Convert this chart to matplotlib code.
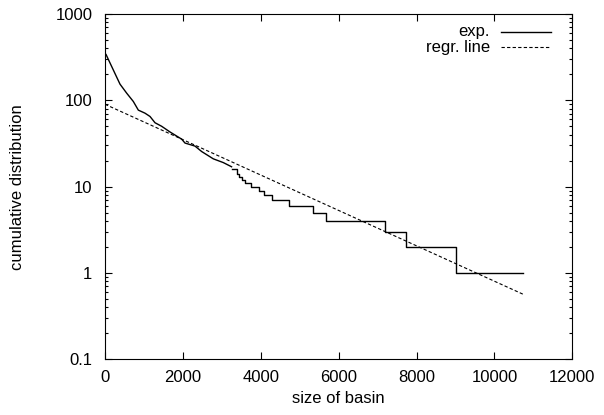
import matplotlib
matplotlib.use("Agg")
from matplotlib import pyplot as plt
from matplotlib.ticker import LogLocator, NullFormatter, FixedLocator
import numpy as np

plt.rcParams['font.family'] = ['Liberation Sans', 'DejaVu Sans']
plt.rcParams['font.size'] = 12

# smooth upper part of the cumulative distribution (many small basins)
curve_x = [0, 26, 213, 385, 557, 727, 856, 1027, 1156, 1284, 1456, 1669,
           1969, 2054, 2311, 2483, 2781, 3038, 3250]
curve_y = [350, 340, 225, 154, 121, 97, 77, 71, 65, 55, 50, 43,
           35.5, 32, 29.5, 25.5, 21, 19, 17]

# step part: level starts at step_x[i] and holds until step_x[i+1]
step_x = [3250, 3380, 3450, 3520, 3600, 3750, 3960, 4080, 4300, 4730,
          5350, 5680, 7200, 7730, 9010, 10740]
step_y = [16, 14, 13, 12, 11, 10, 9, 8, 7, 6, 5, 4, 3, 2, 1, 1]

# regression line end points
regr_x = [0, 10740]
regr_y = [90, 0.566]

legend_labels = ['exp.', 'regr. line']

fig = plt.figure(figsize=(6.04, 4.15), dpi=100)
ax = fig.add_axes([105/604, (415-359.3)/415, 467.3/604, 345.3/415])

solid = dict(color='black', lw=1.0)
dashed = dict(color='black', lw=0.8, linestyle=(0, (3, 2)))

ax.plot(curve_x, curve_y, **solid)
ax.step(step_x, step_y, where='post', **solid)
ax.plot(regr_x, regr_y, **dashed)

# gnuplot style key: right aligned text, sample line on the right
for lab, sty, yk in zip(legend_labels, [solid, dashed], [0.9487, 0.9044]):
    ax.text(0.824, yk, lab, transform=ax.transAxes, ha='right', va='center')
    ax.plot([0.847, 0.954], [yk, yk], transform=ax.transAxes, **sty)

ax.set_yscale('log')
ax.set_xlim(0, 12000)
ax.set_ylim(0.1, 1000)
ax.xaxis.set_major_locator(FixedLocator(np.arange(0, 12001, 2000)))
ax.yaxis.set_major_locator(FixedLocator([0.1, 1, 10, 100, 1000]))
ax.set_yticklabels(['0.1', '1', '10', '100', '1000'])
ax.yaxis.set_minor_locator(LogLocator(base=10, subs=np.arange(2, 10), numticks=20))
ax.yaxis.set_minor_formatter(NullFormatter())

ax.tick_params(which='both', direction='in', top=True, right=True, width=0.8)
ax.tick_params(which='major', length=5, labelsize=12)
ax.tick_params(axis='y', which='major', pad=9)
ax.tick_params(axis='x', which='major', pad=8)
ax.tick_params(which='minor', length=2.5)
for s in ax.spines.values():
    s.set_linewidth(0.8)

ax.set_xlabel('size of basin', labelpad=4)
ax.set_ylabel('cumulative distribution', labelpad=22)

fig.savefig('out.png', dpi=100)
